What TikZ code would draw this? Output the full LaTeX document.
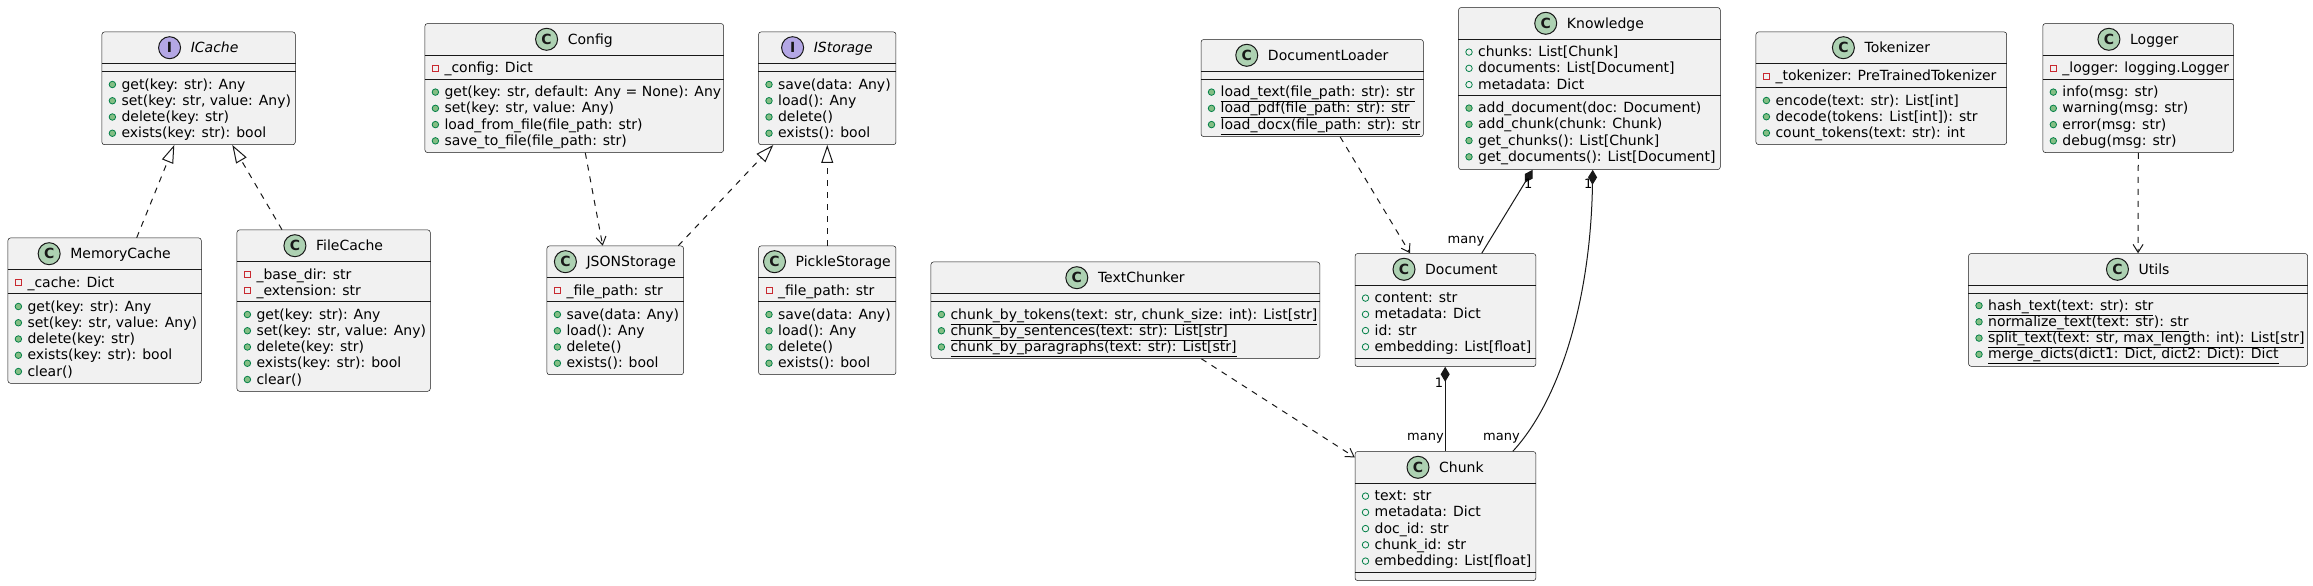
\documentclass[tikz,border=0pt]{standalone}
\usepackage{fontspec}
\setmainfont{DejaVu Sans}
\usetikzlibrary{arrows.meta,calc}
\definecolor{boxfill}{HTML}{F1F1F1}
\definecolor{ink}{HTML}{181818}
\definecolor{cgreen}{HTML}{ADD1B2}
\definecolor{ipurple}{HTML}{B4A7E5}
\definecolor{privred}{HTML}{C82930}
\definecolor{pubgreen}{HTML}{84BE84}
\definecolor{pubdark}{HTML}{038048}
\tikzset{
 classbox/.style={draw=ink, line width=0.5pt, fill=boxfill, rounded corners=2.5pt, inner sep=0pt},
 sepline/.style={draw=ink, line width=0.5pt},
 titletext/.style={inner sep=0pt, font=\fontsize{14}{16}\selectfont, text height=10pt, text depth=0pt},
 classicon/.style={circle, draw=ink, line width=1pt, minimum size=22pt, inner sep=0pt, font=\fontsize{14}{16}\selectfont\bfseries, text=ink},
 membtext/.style={anchor=west, inner sep=0pt, font=\fontsize{14}{16}\selectfont, text height=10pt, text depth=0pt},
 iconp/.style={rectangle, draw=privred, line width=0.8pt, minimum size=6pt, inner sep=0pt},
 iconm/.style={circle, draw=pubdark, fill=pubgreen, line width=0.8pt, minimum size=6.5pt, inner sep=0pt},
 icona/.style={circle, draw=pubdark, line width=0.8pt, minimum size=6.5pt, inner sep=0pt},
 conn/.style={draw=ink, line width=1pt},
 dashconn/.style={conn, dash pattern=on 6pt off 6pt},
 realize/.style={dashconn, -{Triangle[open, length=18pt, width=12pt, fill=white]}},
 depends/.style={dashconn, -{Straight Barb[length=8pt, width=10pt]}},
 composed/.style={conn, {Diamond[length=15pt, width=9pt, fill=ink]}-},
 multlabel/.style={inner sep=0pt, font=\fontsize{13}{15}\selectfont, text height=9pt, text depth=0pt},
}
\newcommand{\classbox}[8]{%
 \node[classbox, anchor=north west, minimum width=#4pt, minimum height=#5pt] (#1) at (#2,#3) {};
 \node[titletext] (#1-name) at ($(#1.north)+(16,16)$) {#8};
 \node[classicon, fill=#6] (#1-icon) at ($(#1-name.west)+(-21,0)$) {#7};
 \draw[sepline] ($(#1.north west)+(0,32)$) -- ($(#1.north east)+(0,32)$);
}
\newcommand{\sepat}[2]{\draw[sepline] ($(#1.north west)+(0,#2)$) -- ($(#1.north east)+(0,#2)$);}
\newcommand{\members}[5]{%
 \foreach \mtext [count=\i from 0] in {#5}{
   \pgfmathsetmacro{\yy}{#3+12.3+16.25*\i}
   \node[icon#4] (#1-#2-\i-v) at ($(#1.north west)+(10.7,\yy+0.5)$) {};
   \node[membtext] (#1-#2-\i) at ($(#1.north west)+(19.6,\yy)$) {\mtext};
 }}
\begin{document}
\begin{tikzpicture}[x=1pt,y=-1pt]
\useasboundingbox (0,0) rectangle (2313,586);

% ICache
\classbox{icache}{101.7}{31.7}{193.3}{112.75}{ipurple}{I}{\textit{ICache}}
\sepat{icache}{40}
\members{icache}{ops}{40}{m}{{get(key: str): Any},{set(key: str, value: Any)},{delete(key: str)},{exists(key: str): bool}}

% MemoryCache
\classbox{memcache}{7.7}{237.7}{193.3}{145.3}{cgreen}{C}{MemoryCache}
\sepat{memcache}{56}
\members{memcache}{attr}{32}{p}{{\_cache: Dict}}
\members{memcache}{ops}{56}{m}{{get(key: str): Any},{set(key: str, value: Any)},{delete(key: str)},{exists(key: str): bool},{clear()}}

% FileCache
\classbox{filecache}{236.7}{229.7}{193.3}{161.3}{cgreen}{C}{FileCache}
\sepat{filecache}{72}
\members{filecache}{attr}{32}{p}{{\_base\_dir: str},{\_extension: str}}
\members{filecache}{ops}{72}{m}{{get(key: str): Any},{set(key: str, value: Any)},{delete(key: str)},{exists(key: str): bool},{clear()}}

% Config
\classbox{config}{424.7}{23.3}{298.6}{129}{cgreen}{C}{Config}
\sepat{config}{56}
\members{config}{attr}{32}{p}{{\_config: Dict}}
\members{config}{ops}{56}{m}{{get(key: str, default: Any = None): Any},{set(key: str, value: Any)},{load\_from\_file(file\_path: str)},{save\_to\_file(file\_path: str)}}

% IStorage
\classbox{istorage}{758.3}{31.7}{137.4}{112.75}{ipurple}{I}{\textit{IStorage}}
\sepat{istorage}{40}
\members{istorage}{ops}{40}{m}{{save(data: Any)},{load(): Any},{delete()},{exists(): bool}}

% JSONStorage
\classbox{jsonstorage}{546.7}{245.7}{136.6}{128.75}{cgreen}{C}{JSONStorage}
\sepat{jsonstorage}{56}
\members{jsonstorage}{attr}{32}{p}{{\_file\_path: str}}
\members{jsonstorage}{ops}{56}{m}{{save(data: Any)},{load(): Any},{delete()},{exists(): bool}}

% PickleStorage
\classbox{picklestorage}{758.3}{245.7}{137.4}{128.75}{cgreen}{C}{PickleStorage}
\sepat{picklestorage}{56}
\members{picklestorage}{attr}{32}{p}{{\_file\_path: str}}
\members{picklestorage}{ops}{56}{m}{{save(data: Any)},{load(): Any},{delete()},{exists(): bool}}

% DocumentLoader
\classbox{docloader}{1200.8}{39.3}{222.3}{97}{cgreen}{C}{DocumentLoader}
\sepat{docloader}{40}
\members{docloader}{ops}{40}{m}{{\underline{load\_text(file\_path: str): str}},{\underline{load\_pdf(file\_path: str): str}},{\underline{load\_docx(file\_path: str): str}}}

% TextChunker
\classbox{textchunker}{930.7}{261.7}{388.8}{96.6}{cgreen}{C}{TextChunker}
\sepat{textchunker}{40}
\members{textchunker}{ops}{40}{m}{{\underline{chunk\_by\_tokens(text: str, chunk\_size: int): List[str]}},{\underline{chunk\_by\_sentences(text: str): List[str]}},{\underline{chunk\_by\_paragraphs(text: str): List[str]}}}

% Knowledge
\classbox{knowledge}{1458.3}{7.3}{261.7}{162}{cgreen}{C}{Knowledge}
\sepat{knowledge}{88}
\members{knowledge}{attr}{32}{a}{{chunks: List[Chunk]},{documents: List[Document]},{metadata: Dict}}
\members{knowledge}{ops}{88}{m}{{add\_document(doc: Document)},{add\_chunk(chunk: Chunk)},{get\_chunks(): List[Chunk]},{get\_documents(): List[Document]}}

% Document
\classbox{document}{1354.8}{253.3}{180.8}{113}{cgreen}{C}{Document}
\sepat{document}{105}
\members{document}{attr}{32}{a}{{content: str},{metadata: Dict},{id: str},{embedding: List[float]}}

% Chunk
\classbox{chunk}{1354.8}{451.3}{180.8}{129}{cgreen}{C}{Chunk}
\sepat{chunk}{121}
\members{chunk}{attr}{32}{a}{{text: str},{metadata: Dict},{doc\_id: str},{chunk\_id: str},{embedding: List[float]}}

% Tokenizer
\classbox{tokenizer}{1755.7}{31.7}{250.7}{112.6}{cgreen}{C}{Tokenizer}
\sepat{tokenizer}{56}
\members{tokenizer}{attr}{32}{p}{{\_tokenizer: PreTrainedTokenizer}}
\members{tokenizer}{ops}{56}{m}{{encode(text: str): List[int]},{decode(tokens: List[int]): str},{count\_tokens(text: str): int}}

% Logger
\classbox{logger}{2042.6}{23.3}{190.8}{129}{cgreen}{C}{Logger}
\sepat{logger}{56}
\members{logger}{attr}{32}{p}{{\_logger: logging.Logger}}
\members{logger}{ops}{56}{m}{{info(msg: str)},{warning(msg: str)},{error(msg: str)},{debug(msg: str)}}

% Utils
\classbox{utils}{1968.3}{253.3}{339}{112.75}{cgreen}{C}{Utils}
\sepat{utils}{39.5}
\members{utils}{ops}{39.5}{m}{{\underline{hash\_text(text: str): str}},{\underline{normalize\_text(text: str): str}},{\underline{split\_text(text: str, max\_length: int): List[str]}},{\underline{merge\_dicts(dict1: Dict, dict2: Dict): Dict}}}

% connectors
\draw[realize] ($(memcache.north west)+(129,0)$) -- ($(icache.south west)+(72.6,0)$);
\draw[realize] ($(filecache.north west)+(45.3,0)$) -- ($(icache.south west)+(130.6,0)$);
\draw[depends] ($(config.south west)+(160.6,0)$) -- ($(jsonstorage.north west)+(56,0)$);
\draw[realize] ($(jsonstorage.north west)+(131.6,0)$) -- ($(istorage.south west)+(15,0)$);
\draw[realize] (picklestorage.north) -- (istorage.south);
\draw[depends] ($(docloader.south west)+(139.3,0)$) -- ($(document.north west)+(55.3,0)$);
\draw[depends] ($(textchunker.south west)+(270.7,0)$) -- ($(chunk.north west)+(0,6)$);
\draw[composed] ($(knowledge.south west)+(74.4,0)$) -- ($(document.north west)+(126.9,0)$);
\draw[composed] ($(knowledge.south west)+(134.4,0)$) .. controls +(-2,130) and +(47,-51) .. ($(chunk.north west)+(158,0)$);
\draw[composed] ($(document.south west)+(90.4,0)$) -- ($(chunk.north west)+(90.4,0)$);
\draw[depends] (logger.south) -- (utils.north);

% multiplicities
\node[multlabel] (lbl-kd-one) at (1528.3,184.3) {1};
\node[multlabel] (lbl-kd-many) at (1466,239) {many};
\node[multlabel] (lbl-kc-one) at (1588.3,184.3) {1};
\node[multlabel] (lbl-kc-many) at (1501.4,435.7) {many};
\node[multlabel] (lbl-dc-one) at (1439,382.7) {1};
\node[multlabel] (lbl-dc-many) at (1425.5,435.7) {many};
\end{tikzpicture}
\end{document}
